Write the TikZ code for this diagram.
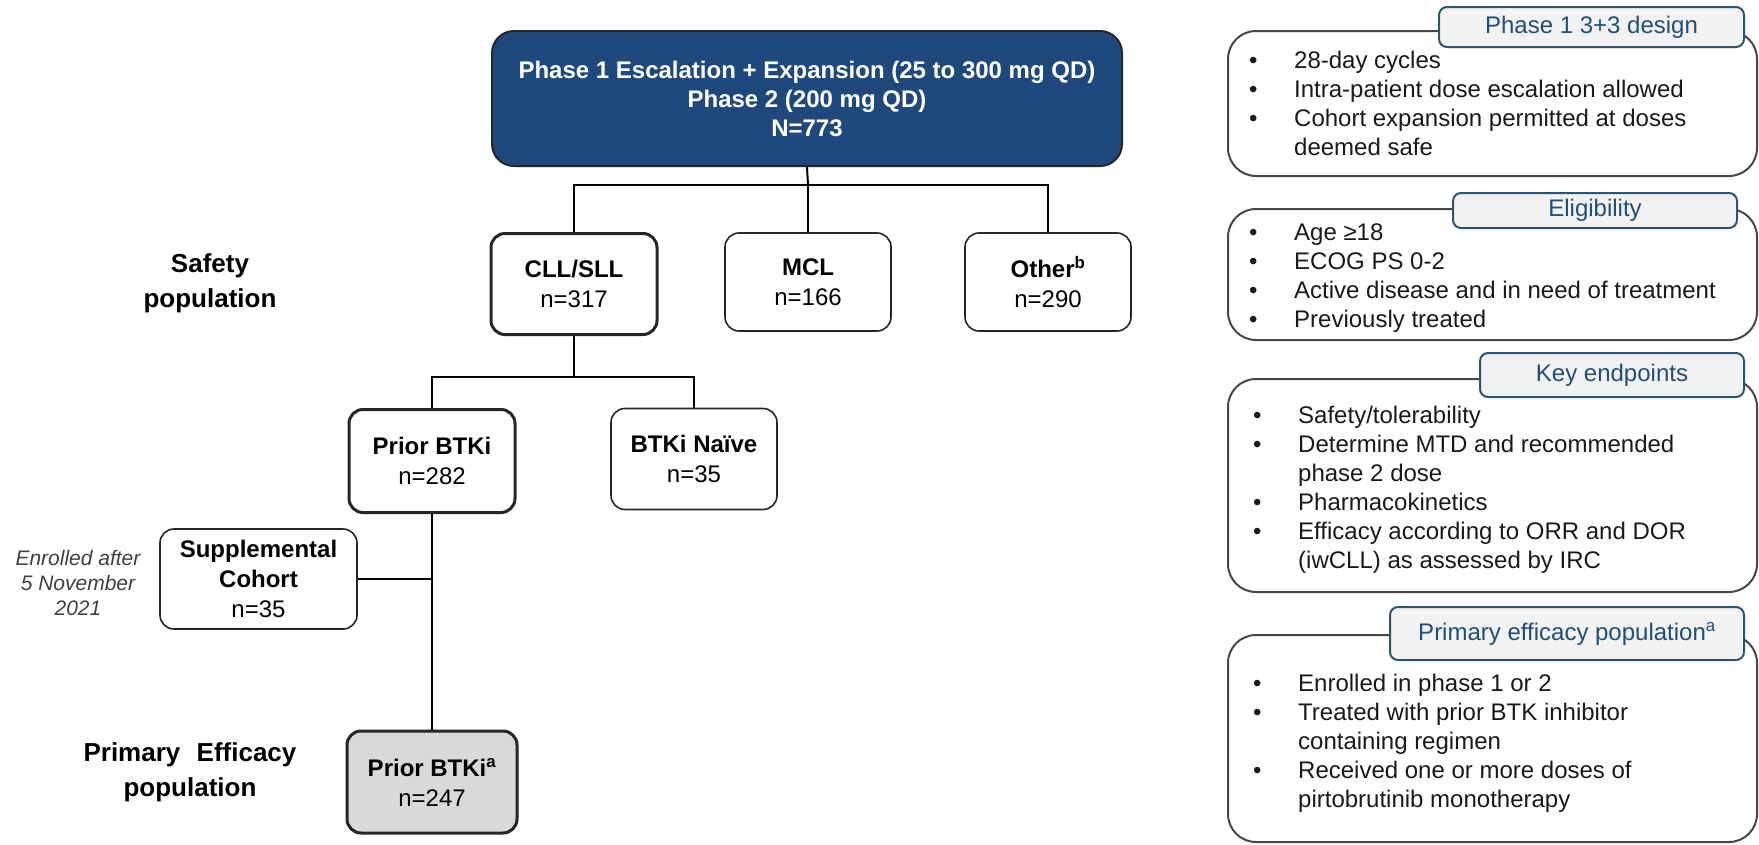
\documentclass[tikz,border=0pt]{standalone}
\usepackage{fontspec}
\setmainfont{Liberation Sans}
\definecolor{navy}{HTML}{1F497D}
\definecolor{tagblue}{HTML}{1F4E79}
\definecolor{tagline}{HTML}{2B5672}
\definecolor{tagfill}{HTML}{F2F2F2}
\definecolor{boxline}{HTML}{262626}
\definecolor{grayfill}{HTML}{D9D9D9}
\definecolor{italgray}{HTML}{404040}
\newcommand\bitem[4]{\node[txt] (#1) at (#2,#3) {#4};}
\begin{document}
\begin{tikzpicture}[x=1pt,y=-1pt,
  fbox/.style={draw=boxline, line width=1.6pt, rounded corners=14pt, align=center,
    font=\fontsize{24}{30}\selectfont, inner sep=0pt},
  thickbox/.style={fbox, line width=3pt},
  conn/.style={draw=black, line width=2pt},
  lbl/.style={font=\bfseries\fontsize{26}{35}\selectfont, align=center, inner sep=0pt},
  tag/.style={draw=tagline, fill=tagfill, line width=2pt, rounded corners=8pt,
    text=tagblue, font=\fontsize{24}{29}\selectfont, inner sep=0pt},
  panel/.style={draw=boxline!85, line width=2pt, rounded corners=28pt, inner sep=0pt},
  txt/.style={anchor=base west, inner sep=0pt, font=\fontsize{24}{29}\selectfont, text=black!90}
]
\useasboundingbox (0,0) rectangle (1759,844);

% ---------------- flow chart ----------------
\node[fbox, fill=navy, text=white, line width=2pt, rounded corners=22pt,
  font=\bfseries\fontsize{24}{29}\selectfont,
  minimum width=630pt, minimum height=135pt] (top) at (807,98.5)
  {Phase 1 Escalation + Expansion (25 to 300 mg QD)\\Phase 2 (200 mg QD)\\N=773};

\node[thickbox, minimum width=166pt, minimum height=101pt] (cll) at (574,284)
  {\textbf{CLL/SLL}\\n=317};
\node[fbox, minimum width=166pt, minimum height=98pt] (mcl) at (808,282)
  {\textbf{MCL}\\n=166};
\node[fbox, minimum width=166pt, minimum height=98pt] (other) at (1048,282)
  {\textbf{Other\textsuperscript{b}}\\n=290};

\node[thickbox, minimum width=166pt, minimum height=103pt] (prior) at (432,461)
  {\textbf{Prior BTKi}\\n=282};
\node[fbox, minimum width=166pt, minimum height=101pt] (naive) at (694,459)
  {\textbf{BTKi Naïve}\\n=35};

\node[fbox, minimum width=197pt, minimum height=100pt] (supp) at (258.5,579)
  {\textbf{Supplemental}\\\textbf{Cohort}\\n=35};

\node[thickbox, fill=grayfill, minimum width=170pt, minimum height=102pt] (prior2) at (432,782)
  {\textbf{Prior BTKi\textsuperscript{a}}\\n=247};

\coordinate (j1) at (808,185);
\coordinate (j2) at (574,377);
\draw[conn] (top.south) -- (j1);
\draw[conn] (cll.north) |- (j1) -| (other.north);
\draw[conn] (mcl.north) -- (mcl.north |- j1);
\draw[conn] (cll.south) -- (j2);
\draw[conn] (prior.north) |- (j2) -| (naive.north);
\draw[conn] (prior.south) -- (prior2.north);
\draw[conn] (supp.east) -- (supp.east -| prior.south);

\node[lbl] (safety) at (210,283) {Safety\\population};
\node[lbl] (primeff) at (190,772) {Primary\hspace{0.35em} Efficacy\\population};
\node[font=\itshape\fontsize{21}{25}\selectfont, text=italgray, align=center, inner sep=0pt]
  (enr) at (78,583) {Enrolled after\\5 November\\2021};

% ---------------- right panels ----------------
\node[panel, minimum width=529pt, minimum height=145pt] (pan1) at (1492.5,103.5) {};
\node[panel, minimum width=529pt, minimum height=131pt] (pan2) at (1492.5,274.5) {};
\node[panel, minimum width=529pt, minimum height=213pt] (pan3) at (1492.5,485.5) {};
\node[panel, minimum width=529pt, minimum height=207pt] (pan4) at (1492.5,738.5) {};

\node[tag, minimum width=305pt, minimum height=40pt] (tag1) at (1591.5,27) {Phase 1 3+3 design};
\node[tag, minimum width=284pt, minimum height=35pt] (tag2) at (1595,210.5) {Eligibility};
\node[tag, minimum width=264pt, minimum height=44pt] (tag3) at (1612,375) {Key endpoints};
\node[tag, minimum width=354pt, minimum height=53pt] (tag4) at (1567,633.5)
  {Primary efficacy population\textsuperscript{a}};

% panel 1
\bitem{b1a}{1249}{68}{•}  \bitem{t1a}{1294}{68}{28-day cycles}
\bitem{b1b}{1249}{97}{•}  \bitem{t1b}{1294}{97}{Intra-patient dose escalation allowed}
\bitem{b1c}{1249}{126}{•} \bitem{t1c}{1294}{126}{Cohort expansion permitted at doses}
\bitem{t1d}{1294}{155}{deemed safe}
% panel 2
\bitem{b2a}{1249}{240}{•} \bitem{t2a}{1294}{240}{Age ≥18}
\bitem{b2b}{1249}{269}{•} \bitem{t2b}{1294}{269}{ECOG PS 0-2}
\bitem{b2c}{1249}{298}{•} \bitem{t2c}{1294}{298}{Active disease and in need of treatment}
\bitem{b2d}{1249}{327}{•} \bitem{t2d}{1294}{327}{Previously treated}
% panel 3
\bitem{b3a}{1253}{423}{•} \bitem{t3a}{1298}{423}{Safety/tolerability}
\bitem{b3b}{1253}{452}{•} \bitem{t3b}{1298}{452}{Determine MTD and recommended}
\bitem{t3c}{1298}{481}{phase 2 dose}
\bitem{b3d}{1253}{510}{•} \bitem{t3d}{1298}{510}{Pharmacokinetics}
\bitem{b3e}{1253}{539}{•} \bitem{t3e}{1298}{539}{Efficacy according to ORR and DOR}
\bitem{t3f}{1298}{568}{(iwCLL) as assessed by IRC}
% panel 4
\bitem{b4a}{1253}{691}{•} \bitem{t4a}{1298}{691}{Enrolled in phase 1 or 2}
\bitem{b4b}{1253}{720}{•} \bitem{t4b}{1298}{720}{Treated with prior BTK inhibitor}
\bitem{t4c}{1298}{749}{containing regimen}
\bitem{b4d}{1253}{778}{•} \bitem{t4d}{1298}{778}{Received one or more doses of}
\bitem{t4e}{1298}{807}{pirtobrutinib monotherapy}
\end{tikzpicture}
\end{document}
